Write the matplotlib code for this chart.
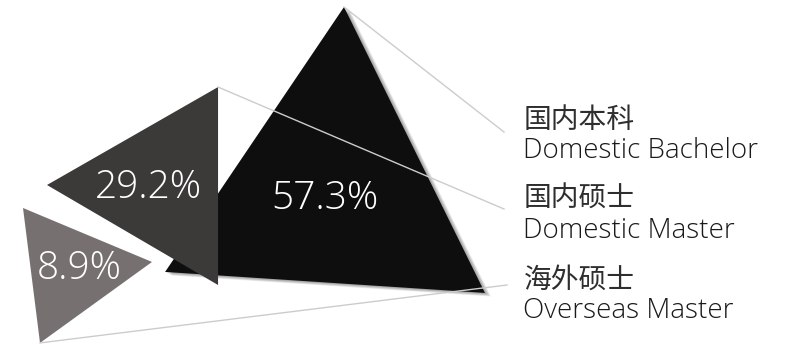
import numpy as np
import matplotlib.pyplot as plt
from matplotlib.patches import Polygon

plt.rcParams['font.family'] = ['Open Sans', 'Noto Sans CJK SC', 'DejaVu Sans']

# shares of each group (%)
values = [57.3, 29.2, 8.9]
labels_cn = ['国内本科', '国内硕士', '海外硕士']
labels_en = ['Domestic Bachelor', 'Domestic Master', 'Overseas Master']
colors = ['#0e0e0e', '#3b3a39', '#767170']

# triangle layout: anchor point (pixels) and unit shape, scaled by sqrt(value)
anchors = [(344, 7), (47, 185), (23, 208)]
shapes = [
    [(0, 0), (-0.622, 0.921), (0.490, 0.994)],   # pointing up
    [(0, 0), (0.833, -0.477), (0.833, 0.487)],   # pointing left
    [(0, 0), (1.138, 0.476), (0.150, 1.190)],    # pointing right
]
label_shift = [(-6, 8), (-13, 2), (8, -2)]
leader_vertex = [0, 1, 2]          # which corner the leader line leaves from
leader_end = [(504, 132), (504, 209), (507, 285)]
text_y = [117, 196, 277]
scale = 38

fig = plt.figure(figsize=(7.92, 3.45), dpi=100)
ax = fig.add_axes([0, 0, 1, 1])
ax.set_xlim(0, 792)
ax.set_ylim(345, 0)
ax.axis('off')

tris = []
for v, a, shp in zip(values, anchors, shapes):
    s = scale * np.sqrt(v)
    tris.append(np.array([(a[0] + dx * s, a[1] + dy * s) for dx, dy in shp]))

# soft shadow behind the big triangle
for k in range(6):
    off = 1 + k
    ax.add_patch(Polygon(tris[0] + [off, off * 0.6], closed=True, color='black',
                         alpha=0.07, lw=0, zorder=1))

z = [2, 3, 3]
for i, tri in enumerate(tris):
    ax.add_patch(Polygon(tri, closed=True, color=colors[i], lw=0, zorder=z[i]))
    cx, cy = tri.mean(axis=0)
    ax.text(cx + label_shift[i][0], cy + label_shift[i][1], f'{values[i]:.1f}%',
            color='white', fontsize=28, fontweight='light',
            ha='center', va='center', zorder=5)

# leader lines to the legend text
for i, tri in enumerate(tris):
    p = tri[leader_vertex[i]]
    ax.plot([p[0], leader_end[i][0]], [p[1], leader_end[i][1]],
            color='#cccccc', lw=1, zorder=4)
    ax.text(524, text_y[i], labels_cn[i], fontsize=20, color='#2e2e2e',
            fontweight='light', ha='left', va='center_baseline')
    ax.text(523, text_y[i] + 31, labels_en[i], fontsize=20, color='#1a1a1a',
            fontweight='light', ha='left', va='center_baseline')

fig.savefig('out.png', dpi=100)
